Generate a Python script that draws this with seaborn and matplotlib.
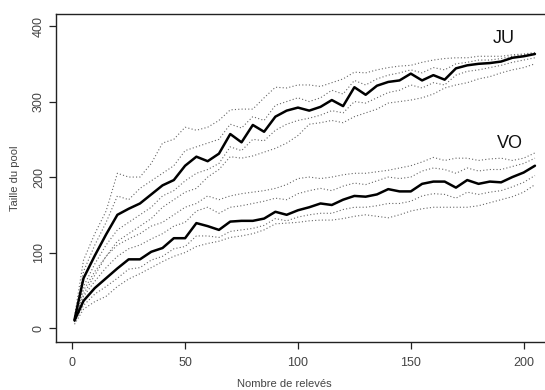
import matplotlib
matplotlib.use("Agg")
import matplotlib.pyplot as plt
import seaborn as sns
import pandas as pd

# ---- data ----
releves = [1, 5, 10, 15, 20, 25, 30, 35, 40, 45, 50, 55, 60, 65, 70, 75, 80, 85, 90, 95,
           100, 105, 110, 115, 120, 125, 130, 135, 140, 145, 150, 155, 160, 165, 170, 175,
           180, 185, 190, 195, 200, 205]

ju_mean = [11, 66, 96, 124, 150, 158, 165, 177, 189, 196, 215, 227, 221, 231, 257, 246, 269, 260,
           280, 288, 292, 288, 293, 302, 294, 319, 309, 321, 326, 328, 337, 328, 335, 329, 344,
           348, 350, 351, 353, 358, 360, 363]
vo_mean = [10, 36, 53, 66, 79, 91, 91, 101, 106, 119, 119, 139, 135, 130, 141, 142, 142, 145,
           154, 150, 156, 160, 165, 163, 170, 175, 174, 177, 184, 181, 181, 191, 194, 194, 186,
           196, 191, 194, 193, 200, 206, 215]

ju_rep_hi = [15, 90, 125, 155, 205, 200, 200, 218, 245, 250, 266, 262, 266, 275, 289, 290, 290,
             305, 319, 318, 322, 322, 320, 325, 330, 339, 338, 342, 345, 347, 348, 352, 355, 357,
             358, 358, 360, 360, 360, 362, 363, 365]
ju_rep_lo = [8, 45, 70, 95, 115, 125, 135, 145, 160, 170, 180, 185, 200, 210, 227, 225, 228, 233,
             238, 245, 255, 270, 272, 275, 272, 280, 285, 290, 298, 300, 302, 305, 310, 318, 322,
             325, 330, 333, 338, 342, 345, 350]
ju_rep_a = [12, 75, 110, 140, 175, 170, 185, 195, 205, 215, 235, 240, 245, 250, 270, 265, 280,
            275, 295, 300, 305, 300, 305, 315, 310, 328, 322, 330, 335, 338, 342, 338, 345, 342,
            350, 352, 355, 355, 357, 360, 362, 364]
ju_rep_b = [10, 55, 85, 110, 130, 140, 150, 160, 175, 182, 195, 205, 210, 218, 240, 235, 250,
            248, 262, 270, 275, 278, 282, 288, 285, 300, 298, 305, 312, 315, 322, 318, 325, 322,
            335, 340, 342, 345, 348, 352, 355, 358]

vo_rep_hi = [15, 50, 75, 95, 110, 118, 125, 135, 140, 150, 160, 165, 175, 170, 175, 178, 180,
             182, 185, 190, 198, 200, 198, 200, 203, 205, 205, 207, 209, 212, 215, 220, 226, 222,
             225, 225, 222, 224, 225, 222, 225, 232]
vo_rep_lo = [5, 25, 35, 42, 55, 65, 72, 80, 88, 95, 100, 108, 112, 115, 120, 122, 125, 130, 138,
             139, 140, 142, 143, 143, 145, 148, 150, 148, 146, 150, 155, 158, 160, 160, 160, 160,
             162, 166, 170, 174, 180, 190]
vo_rep_a = [12, 42, 62, 80, 95, 105, 110, 118, 125, 135, 140, 155, 160, 152, 160, 162, 165, 168,
            172, 170, 178, 182, 185, 182, 188, 192, 190, 195, 200, 198, 200, 208, 212, 210, 205,
            212, 208, 210, 210, 214, 218, 225]
vo_rep_b = [8, 30, 45, 55, 66, 78, 80, 90, 95, 105, 108, 122, 122, 120, 128, 130, 132, 136, 145,
            142, 147, 150, 152, 152, 157, 160, 160, 162, 165, 165, 168, 175, 178, 177, 172, 180,
            177, 180, 182, 187, 193, 202]

group_labels = ["JU", "VO"]
x_ticks = [0, 50, 100, 150, 200]
y_ticks = [0, 100, 200, 300, 400]

# ---- long-form tables ----
rep_series = {
    "JU_hi": ju_rep_hi, "JU_lo": ju_rep_lo, "JU_a": ju_rep_a, "JU_b": ju_rep_b,
    "VO_hi": vo_rep_hi, "VO_lo": vo_rep_lo, "VO_a": vo_rep_a, "VO_b": vo_rep_b,
}
reps = pd.concat(
    [pd.DataFrame({"x": releves, "y": v, "rep": k}) for k, v in rep_series.items()],
    ignore_index=True,
)
means = pd.concat(
    [pd.DataFrame({"x": releves, "y": ju_mean, "grp": "JU"}),
     pd.DataFrame({"x": releves, "y": vo_mean, "grp": "VO"})],
    ignore_index=True,
)

sns.set_style("ticks")
plt.rcParams["font.family"] = ["Liberation Sans", "DejaVu Sans"]

fig = plt.figure(figsize=(5.45, 3.90), dpi=100)
ax = fig.add_axes([56 / 545, 48 / 390, 497 / 545, 328 / 390])

sns.lineplot(data=reps, x="x", y="y", units="rep", estimator=None, color="#666666",
             linewidth=0.8, linestyle=(0, (1, 2)), ax=ax, legend=False)
sns.lineplot(data=means, x="x", y="y", units="grp", estimator=None, color="black",
             linewidth=1.8, ax=ax, legend=False)

ax.set_xlim(-7.2, 213.0)
ax.set_ylim(-18.5, 416)
ax.set_xticks(x_ticks)
ax.set_yticks(y_ticks)
ax.set_xticklabels([str(t) for t in x_ticks])
ax.set_yticklabels([str(t) for t in y_ticks], rotation=90, va="center")

for s in ax.spines.values():
    s.set_linewidth(1.0)
    s.set_color("#222222")
ax.tick_params(direction="out", length=5, width=0.9, color="#222222",
               labelsize=9, labelcolor="#444444")
ax.tick_params(axis="x", pad=6)
ax.tick_params(axis="y", pad=3)

ax.set_xlabel("Nombre de relevés", fontsize=8, color="#444444")
ax.set_ylabel("Taille du pool", fontsize=8, color="#444444")
ax.xaxis.set_label_coords(0.46, -0.113)
ax.yaxis.set_label_coords(-0.072, 0.5)

ax.text(191, 384, group_labels[0], fontsize=13, ha="center", va="center", color="#111111")
ax.text(194, 245, group_labels[1], fontsize=13, ha="center", va="center", color="#111111")

fig.savefig("out.png", dpi=100)
